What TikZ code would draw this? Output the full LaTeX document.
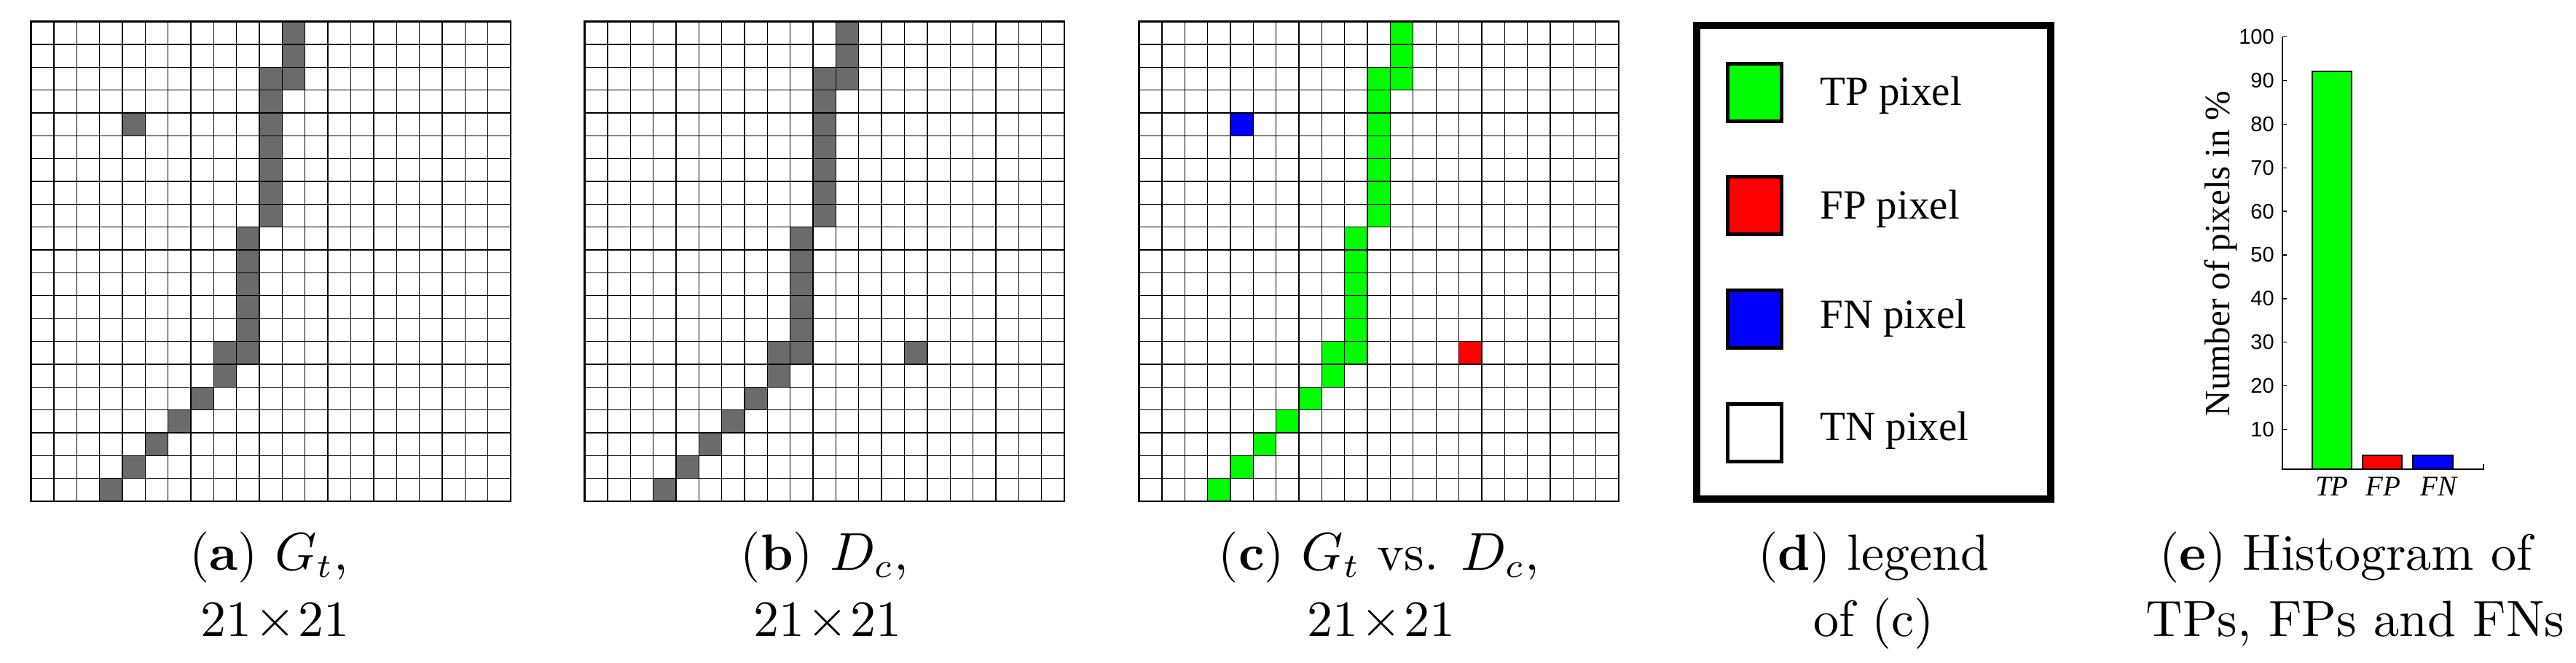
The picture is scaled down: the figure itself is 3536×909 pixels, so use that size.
\documentclass[tikz,border=0pt]{standalone}
\usepackage{fontspec}
\newfontfamily\serifT{Liberation Serif}
\newfontfamily\sansH{Liberation Sans}
\definecolor{cellgray}{HTML}{6B6B6B}
\definecolor{tpgreen}{HTML}{00FF00}
\definecolor{fpred}{HTML}{FF0000}
\definecolor{fnblue}{HTML}{0000FF}
\tikzset{
  gridline/.style={line width=0.195pt},
  gridborder/.style={line width=0.42pt},
  captext/.style={anchor=base, inner sep=0pt, font=\fontsize{10.5}{12.6}\selectfont},
  legframe/.style={line width=1.5pt},
  swatch/.style={line width=0.75pt},
  legtext/.style={anchor=base west, inner sep=0pt, font=\serifT\fontsize{8.55}{10.2}\selectfont},
  axisline/.style={line width=0.225pt},
  barbox/.style={line width=0.255pt},
  ticklabel/.style={anchor=east, inner sep=0pt, font=\sansH\fontsize{4.35}{5.2}\selectfont},
  catlabel/.style={anchor=base, inner sep=0pt, font=\serifT\itshape\fontsize{5.85}{7}\selectfont},
  ylab/.style={rotate=90, anchor=base, inner sep=0pt, font=\serifT\fontsize{7.35}{8.8}\selectfont}
}
\def\cs{31.357}
\def\pathcells{11/0,11/1,10/2,11/2,10/3,10/4,10/5,10/6,10/7,10/8,9/9,9/10,9/11,9/12,9/13,8/14,9/14,8/15,7/16,6/17,5/18,4/19,3/20}
\def\sz{21\kern0.05em$\times$\kern0.05em21}
\begin{document}
\begin{tikzpicture}[x=0.15pt,y=-0.15pt]
\useasboundingbox (0,0) rectangle (3536,909);

% ---------- (a) ground truth ----------
\begin{scope}[shift={(42.5,29.5)}]
  \foreach \c/\r in \pathcells {\fill[cellgray] (\c*\cs,\r*\cs) rectangle ++(\cs,\cs);}
  \fill[cellgray] (4*\cs,4*\cs) rectangle ++(\cs,\cs);
  \foreach \i in {1,...,20} {
    \draw[gridline] (\i*\cs,0) -- (\i*\cs,21*\cs);
    \draw[gridline] (0,\i*\cs) -- (21*\cs,\i*\cs);
  }
  \draw[gridborder] (0,0) rectangle (21*\cs,21*\cs);
\end{scope}

% ---------- (b) detection ----------
\begin{scope}[shift={(802.5,29.5)}]
  \foreach \c/\r in \pathcells {\fill[cellgray] (\c*\cs,\r*\cs) rectangle ++(\cs,\cs);}
  \fill[cellgray] (14*\cs,14*\cs) rectangle ++(\cs,\cs);
  \foreach \i in {1,...,20} {
    \draw[gridline] (\i*\cs,0) -- (\i*\cs,21*\cs);
    \draw[gridline] (0,\i*\cs) -- (21*\cs,\i*\cs);
  }
  \draw[gridborder] (0,0) rectangle (21*\cs,21*\cs);
\end{scope}

% ---------- (c) comparison ----------
\begin{scope}[shift={(1563.5,29.5)}]
  \foreach \c/\r in \pathcells {\fill[tpgreen] (\c*\cs,\r*\cs) rectangle ++(\cs,\cs);}
  \fill[fnblue] (4*\cs,4*\cs) rectangle ++(\cs,\cs);
  \fill[fpred] (14*\cs,14*\cs) rectangle ++(\cs,\cs);
  \foreach \i in {1,...,20} {
    \draw[gridline] (\i*\cs,0) -- (\i*\cs,21*\cs);
    \draw[gridline] (0,\i*\cs) -- (21*\cs,\i*\cs);
  }
  \draw[gridborder] (0,0) rectangle (21*\cs,21*\cs);
\end{scope}

% ---------- (d) legend ----------
\draw[legframe] (2328.5,35) rectangle (2815,685);
\draw[swatch, fill=tpgreen] (2371,87.5) rectangle (2445.5,166.5);
\draw[swatch, fill=fpred]   (2371,242) rectangle (2445.5,321);
\draw[swatch, fill=fnblue]  (2371,398) rectangle (2445.5,477);
\draw[swatch, fill=white]   (2371,554) rectangle (2445.5,633);
\node[legtext] (ltp) at (2497,144) {TP pixel};
\node[legtext] (lfp) at (2497,300) {FP pixel};
\node[legtext] (lfn) at (2497,450) {FN pixel};
\node[legtext] (ltn) at (2497,604) {TN pixel};

% ---------- (e) histogram ----------
\fill[tpgreen] (3174,644) rectangle (3228,97.7);
\fill[fpred]   (3242.7,644) rectangle (3297.3,625);
\fill[fnblue]  (3312,644) rectangle (3366.7,625);
\draw[barbox] (3174,644) rectangle (3228,97.7);
\draw[barbox] (3242.7,644) rectangle (3297.3,625);
\draw[barbox] (3312,644) rectangle (3366.7,625);
\draw[axisline] (3133,50.7) -- (3133,644) -- (3409,644) -- (3409,637);
\foreach \v in {10,20,...,100} {
  \draw[axisline] (3133,649.2-5.985*\v) -- (3139,649.2-5.985*\v);
  \node[ticklabel] (t\v) at (3123,649.2-5.985*\v) {\v};
}
\node[catlabel] (xtp) at (3201,680) {TP};
\node[catlabel] (xfp) at (3271.7,680) {FP};
\node[catlabel] (xfn) at (3347.5,680) {FN};
\node[ylab] (ylabel) at (3060,348) {Number of pixels in \%};

% ---------- captions ----------
\node[captext] (ca1) at (369,782) {(\textbf{a}) $G_t$,};
\node[captext] (ca2) at (377.5,873) {\sz};
\node[captext] (cb1) at (1131.75,782) {(\textbf{b}) $D_c$,};
\node[captext] (cb2) at (1136,873) {\sz};
\node[captext] (cc1) at (1892.75,782) {(\textbf{c}) $G_t$ vs. $D_c$,};
\node[captext] (cc2) at (1896,873) {\sz};
\node[captext] (cd1) at (2572,782) {(\textbf{d}) legend};
\node[captext] (cd2) at (2572,873) {of (c)};
\node[captext] (ce1) at (3220,782) {(\textbf{e}) Histogram of};
\node[captext] (ce2) at (3233,873) {TPs, FPs and FNs};
\end{tikzpicture}
\end{document}
